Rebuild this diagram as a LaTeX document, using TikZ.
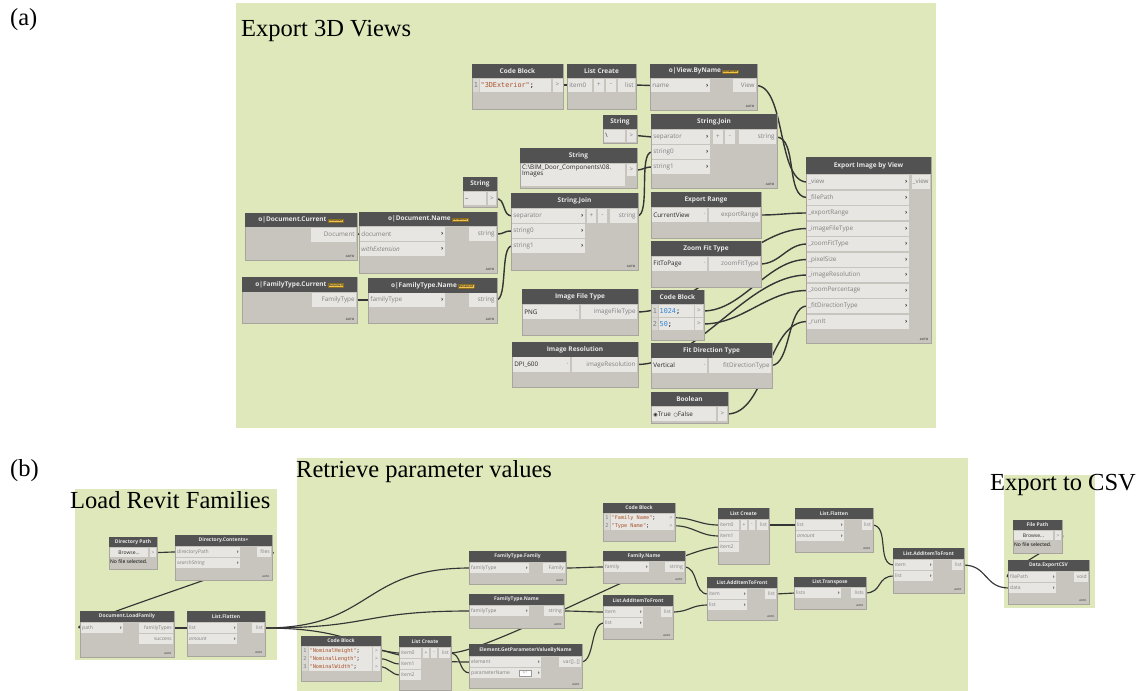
\documentclass[tikz,border=0pt]{standalone}
\usepackage{fontspec}
\setmainfont{Liberation Serif}
\setmonofont{DejaVu Sans Mono}
\newfontfamily\zui{Open Sans}
\newfontfamily\zdj{DejaVu Sans}
\usetikzlibrary{calc}
\definecolor{grp}{HTML}{DEE8BA}
\definecolor{hdr}{HTML}{525252}
\definecolor{hdrt}{HTML}{E8E8E8}
\definecolor{bod}{HTML}{C8C5BE}
\definecolor{bodl}{HTML}{A8A59E}
\definecolor{prt}{HTML}{E8E6E2}
\definecolor{prtd}{HTML}{D9D7D2}
\definecolor{ptx}{HTML}{808080}
\definecolor{chev}{HTML}{3A3A3A}
\definecolor{wirec}{HTML}{353535}
\definecolor{badge}{HTML}{F2C24B}
\definecolor{badgeb}{HTML}{8A6D1E}
\definecolor{cstr}{HTML}{A8522A}
\definecolor{cnum}{HTML}{2F86D8}
\pgfdeclarelayer{grplayer}
\pgfdeclarelayer{wirelayer}
\pgfsetlayers{grplayer,wirelayer,main}
\newcommand\zhf{\zui\bfseries\fontsize{6.5}{7}\selectfont}
\newcommand\zpf{\zui\fontsize{6.3}{7}\selectfont}
\newcommand\zaf{\zui\bfseries\fontsize{3}{3.5}\selectfont}
\newcommand\zkf{\ttfamily\fontsize{6.8}{8}\selectfont}
\newcommand\zbf{\zui\fontsize{3}{3.2}\selectfont}
\newcommand\zRN{\,{\setlength\fboxsep{0.6pt}\setlength\fboxrule{0.3pt}\fcolorbox{badgeb}{badge}{\zbf\color{black!80}Renamed}}}
\tikzset{
 dbody/.style={anchor=north west, fill=bod, draw=bodl, line width=0.4pt, inner sep=0pt, outer sep=0pt},
 dhead/.style={anchor=north west, fill=hdr, inner sep=0pt, outer sep=0pt, text=hdrt, font=\zhf},
 dport/.style={anchor=north west, fill=prt, inner sep=0pt, outer sep=0pt},
 plab/.style={font=\zpf, text=ptx, inner sep=1.2pt},
 pchev/.style={font=\zpf\bfseries, text=chev, inner sep=1.3pt},
 autol/.style={font=\zaf, text=black!65, inner sep=0pt},
 wire/.style={draw=wirec, line width=1.4pt},
 grpbox/.style={anchor=north west, fill=grp, inner sep=0pt, outer sep=0pt},
 ttl/.style={font=\fontsize{24.5}{26}\selectfont, anchor=base west, inner sep=0pt},
 ccode/.style={font=\zkf, inner sep=1pt},
}
% Dynamo node: name, x, y, w, h, header height, title
\newcommand\zDN[7]{%
 \node[dbody, minimum width=#4pt, minimum height=#5pt] (#1) at (#2,#3) {};%
 \node[dhead, minimum width=#4pt, minimum height=#6pt] (#1-h) at (#2,#3) {#7};}
% input port with chevron
\newcommand\zIP[6]{%
 \node[dport, minimum width=#4pt, minimum height=#5pt] (#1) at (#2,#3) {};%
 \node[plab, anchor=west] (#1-t) at (#1.west) {#6};%
 \node[pchev, anchor=east] (#1-c) at (#1.east) {›};}
% input port without chevron
\newcommand\zIN[6]{%
 \node[dport, minimum width=#4pt, minimum height=#5pt] (#1) at (#2,#3) {};%
 \node[plab, anchor=west] (#1-t) at (#1.west) {#6};}
% output port
\newcommand\zOP[6]{%
 \node[dport, minimum width=#4pt, minimum height=#5pt] (#1) at (#2,#3) {};%
 \node[plab, anchor=east] (#1-t) at (#1.east) {#6};}
% plain box, centred text
\newcommand\zBX[6]{%
 \node[dport, minimum width=#4pt, minimum height=#5pt] (#1) at (#2,#3) {};%
 \node[plab] (#1-t) at (#1.center) {#6};}
\newcommand\zCO[5]{\zBX{#1}{#2}{#3}{#4}{#5}{>}}
% dropdown
\newcommand\zDD[6]{%
 \node[dport, minimum width=#4pt, minimum height=#5pt] (#1) at (#2,#3) {};%
 \node[plab, text=black!85, anchor=west] (#1-t) at (#1.west) {#6};%
 \node[plab, anchor=east, text=ptx] (#1-c) at (#1.east) {\zdj\fontsize{4}{4}\selectfont ˅};}
% code row: name, x, y, code width, h, number, code
\newcommand\zCR[7]{%
 \node[dport, fill=prtd, minimum width=6pt, minimum height=#5pt] (#1-n) at (#2,#3) {};%
 \node[ccode, text=ptx] (#1-nt) at (#1-n.center) {#6};%
 \node[dport, minimum width=#4pt, minimum height=#5pt] (#1) at ($(#2,#3)+(6.5,0)$) {};%
 \node[ccode, anchor=west] (#1-t) at (#1.west) {#7};}
\newcommand\zAU[1]{\node[autol, anchor=south east] (#1-au) at ($(#1.south east)+(-2.5,-2)$) {AUTO};}
\newcommand\zW[3][18]{\draw[wire] (#2) .. controls +(#1,0) and +(-#1,0) .. (#3);}
\begin{document}
\begin{tikzpicture}[x=1pt,y=-1pt]
\useasboundingbox (0,0) rectangle (1144,691);
\begin{pgfonlayer}{grplayer}
\fill[white] (0,0) rectangle (1144,691);
\node[grpbox, minimum width=700pt, minimum height=425pt] (gA) at (236,3) {};
\node[grpbox, minimum width=202pt, minimum height=171pt] (gL) at (75,489) {};
\node[grpbox, minimum width=671pt, minimum height=233pt] (gR) at (297,458) {};
\node[grpbox, minimum width=91pt, minimum height=133pt] (gE) at (1004,475) {};
\end{pgfonlayer}
% titles
\node[ttl] (la) at (10,25) {(a)};
\node[ttl] (tA) at (241,36) {Export 3D Views};
\node[ttl] (lb) at (10,476) {(b)};
\node[ttl] (tB1) at (70,508) {Load Revit Families};
\node[ttl] (tB2) at (296,477) {Retrieve parameter values};
\node[ttl] (tB3) at (990,490) {Export to CSV};
% ================= (a) =================
\zDN{cbA}{472}{64}{91}{45}{14}{Code Block}
\zCR{cbA-r}{473}{78.5}{71}{13}{1}{{\color{cstr}"3DExterior"};}
\zCO{cbA-o}{552.5}{78.5}{10}{13}
\zDN{lcA}{567}{64}{69}{45}{14}{List Create}
\zIN{lcA-i0}{568}{78.5}{24}{13}{item0}
\zBX{lcA-p}{594}{78.5}{10}{13}{+}
\zBX{lcA-m}{606}{78.5}{10}{13}{-}
\zOP{lcA-o}{618}{78.5}{17}{13}{list}
\zDN{vbn}{650}{64}{107}{46}{14}{o|View.ByName\zRN}
\zIP{vbn-n}{651}{79}{59}{13}{name}
\zOP{vbn-o}{733}{79}{23}{13}{View}
\zAU{vbn}
\zDN{sbs}{603}{115}{34}{28}{14}{String}
\zIN{sbs-v}{604}{129.5}{21}{12}{\color{black!85}\textbackslash}
\zCO{sbs-o}{627}{129.5}{9}{12}
\zDN{sjA}{651}{114}{126}{74}{15}{String.Join}
\zIP{sjA-sep}{652}{130}{58}{14}{separator}
\zIP{sjA-s0}{652}{145}{58}{14}{string0}
\zIP{sjA-s1}{652}{160}{58}{14}{string1}
\zBX{sjA-p}{713}{130}{10}{14}{+}
\zBX{sjA-m}{725}{130}{10}{14}{-}
\zOP{sjA-o}{739}{130}{37}{14}{string}
\zAU{sjA}
\zDN{spth}{520}{148}{117}{40}{15}{String}
\node[dport, minimum width=104pt, minimum height=22pt] (spth-v) at (521,164) {};
\node[plab, text=black!85, align=left, anchor=north west, inner sep=1pt] (spth-t) at (spth-v.north west) {C:\textbackslash BIM\_Door\_Components\textbackslash 08.\\[-1.5pt]Images};
\zCO{spth-o}{627}{164}{9}{12}
\zDN{sus}{463}{177}{34}{30}{14}{String}
\zIN{sus-v}{464}{192}{22}{13}{\color{black!85}\_}
\zCO{sus-o}{488}{192}{8}{13}
\zDN{dcur}{245}{213}{112}{47}{14}{o|Document.Current\zRN}
\zOP{dcur-o}{311}{227.5}{45}{14}{Document}
\zAU{dcur}
\zDN{dnm}{359}{212}{138}{61}{14}{o|Document.Name\zRN}
\zIP{dnm-d}{360}{227}{85}{14}{document}
\zIP{dnm-w}{360}{242}{85}{14}{\itshape withExtension}
\zOP{dnm-o}{469}{227}{27}{14}{string}
\zAU{dnm}
\zDN{ftc}{242}{277}{115}{46}{15}{o|FamilyType.Current\zRN}
\zOP{ftc-o}{312}{293}{44}{14}{FamilyType}
\zAU{ftc}
\zDN{ftn}{368}{278}{129}{45}{15}{o|FamilyType.Name\zRN}
\zIP{ftn-i}{369}{293}{76}{14}{familyType}
\zOP{ftn-o}{469}{293}{27}{14}{string}
\zAU{ftn}
\zDN{sjB}{511}{193}{127}{77}{15}{String.Join}
\zIP{sjB-sep}{512}{209}{73}{14}{separator}
\zIP{sjB-s0}{512}{224}{73}{14}{string0}
\zIP{sjB-s1}{512}{239}{73}{14}{string1}
\zBX{sjB-p}{587}{209}{9}{14}{+}
\zBX{sjB-m}{598}{209}{9}{14}{-}
\zOP{sjB-o}{610}{209}{27}{14}{string}
\zAU{sjB}
\zDN{er}{651}{192}{110}{46}{15}{Export Range}
\zDD{er-d}{652}{208}{55}{14}{CurrentView}
\zOP{er-o}{709}{208}{51}{14}{exportRange}
\zDN{zft}{651}{241}{110}{46}{15}{Zoom Fit Type}
\zDD{zft-d}{652}{257}{55}{14}{FitToPage}
\zOP{zft-o}{709}{257}{51}{14}{zoomFitType}
\zDN{ift}{522}{289}{116}{46}{15}{Image File Type}
\zDD{ift-d}{523}{305}{56}{14}{PNG}
\zOP{ift-o}{581}{305}{56}{14}{imageFileType}
\zDN{cbB}{651}{290}{53}{50}{14}{Code Block}
\zCR{cbB-r1}{652}{305}{35}{12}{1}{{\color{cnum}1024};}
\zCR{cbB-r2}{652}{318}{35}{12}{2}{{\color{cnum}50};}
\zCO{cbB-o1}{695}{305}{8}{12}
\zCO{cbB-o2}{695}{318}{8}{12}
\zDN{ir}{512}{342}{126}{45}{15}{Image Resolution}
\zDD{ir-d}{513}{357}{57}{15}{DPI\_600}
\zOP{ir-o}{572}{357}{65}{15}{imageResolution}
\zDN{fdt}{651}{343}{121}{45}{15}{Fit Direction Type}
\zDD{fdt-d}{652}{358}{55}{15}{Vertical}
\zOP{fdt-o}{709}{358}{62}{15}{fitDirectionType}
\zDN{bool}{651}{392}{77}{31}{14}{Boolean}
\node[dport, minimum width=64pt, minimum height=14pt] (bool-v) at (652,407) {};
\node[plab, text=black!85, anchor=west] (bool-t) at (bool-v.west) {{\zdj\fontsize{5}{5}\selectfont ◉}True\, {\zdj\fontsize{5}{5}\selectfont ○}False};
\zCO{bool-o}{718}{407}{9}{14}
\zDN{eibv}{806}{157}{125}{186}{17}{Export Image by View}
\zIP{e1}{807}{175}{102}{14}{\_view}
\zIP{e2}{807}{190.5}{102}{14}{\_filePath}
\zIP{e3}{807}{206}{102}{14}{\_exportRange}
\zIP{e4}{807}{221.5}{102}{14}{\_imageFileType}
\zIP{e5}{807}{237}{102}{14}{\_zoomFitType}
\zIP{e6}{807}{252.5}{102}{14}{\_pixelSize}
\zIP{e7}{807}{268}{102}{14}{\_imageResolution}
\zIP{e8}{807}{283.5}{102}{14}{\_zoomPercentage}
\zIP{e9}{807}{299}{102}{14}{\_fitDirectionType}
\zIP{e10}{807}{314.5}{102}{14}{\_runIt}
\zOP{eibv-o}{912}{175}{18}{14}{\_view}
\zAU{eibv}
\begin{pgfonlayer}{wirelayer}
\zW[8]{cbA-o.east}{lcA-i0.west}
\zW[8]{lcA-o.east}{vbn-n.west}
\zW[30]{vbn-o.east}{e1.west}
\zW[8]{sbs-o.east}{sjA-sep.west}
\zW[8]{spth-o.east}{sjA-s1.west}
\zW[14]{sjB-o.east}{sjA-s0.west}
\zW[22]{sjA-o.east}{e2.west}
\zW[10]{sus-o.east}{sjB-sep.west}
\zW[4]{dcur-o.east}{dnm-d.west}
\zW[10]{dnm-o.east}{sjB-s0.west}
\zW[6]{ftc-o.east}{ftn-i.west}
\zW[12]{ftn-o.east}{sjB-s1.west}
\zW[20]{er-o.east}{e3.west}
\zW[60]{ift-o.east}{e4.west}
\zW[20]{zft-o.east}{e5.west}
\zW[40]{cbB-o1.east}{e6.west}
\zW[60]{ir-o.east}{e7.west}
\zW[40]{cbB-o2.east}{e8.west}
\zW[20]{fdt-o.east}{e9.west}
\zW[40]{bool-o.east}{e10.west}
\end{pgfonlayer}
% ================= (b) =================
\renewcommand\zhf{\zui\bfseries\fontsize{5}{6}\selectfont}
\renewcommand\zpf{\zui\fontsize{5}{6}\selectfont}
\renewcommand\zaf{\zui\bfseries\fontsize{2.5}{3}\selectfont}
\renewcommand\zkf{\ttfamily\fontsize{5.2}{6}\selectfont}
\tikzset{wire/.style={draw=wirec, line width=1.15pt}, plab/.style={font=\zpf, text=ptx, inner sep=1pt}, pchev/.style={font=\zpf\bfseries, text=chev, inner sep=1pt}}
\zDN{dp}{109}{537}{48}{32}{10}{Directory Path}
\zBX{dp-b}{110}{548}{38}{9}{\color{black!85}Browse...}
\zCO{dp-o}{150}{548}{6}{9}
\node[plab, text=black, anchor=north west, inner sep=0.5pt] (dp-n) at (109.5,558.5) {No file selected.};
\zDN{dc}{175}{535}{97}{45}{11}{Directory.Contents+}
\zIP{dc-dp}{176}{547}{64}{10}{directoryPath}
\zIP{dc-ss}{176}{558}{64}{10}{\itshape searchString}
\zOP{dc-o}{257}{547}{14}{10}{files}
\zAU{dc}
\zDN{lf}{80}{611}{94}{46}{11}{Document.LoadFamily}
\zIP{lf-p}{81}{623}{42}{10}{path}
\zOP{lf-ft}{139}{623}{34}{10}{familyTypes}
\zOP{lf-s}{139}{634}{34}{10}{success}
\zAU{lf}
\zDN{fl1}{187}{611}{78}{45}{11}{List.Flatten}
\zIP{fl1-l}{188}{623}{49}{10}{list}
\zIP{fl1-a}{188}{634}{49}{10}{\itshape amount}
\zOP{fl1-o}{252}{623}{12}{10}{list}
\zAU{fl1}
\zDN{ftf}{469}{551}{97}{33}{11}{FamilyType.Family}
\zIP{ftf-i}{470}{563}{59}{10}{familyType}
\zOP{ftf-o}{543}{563}{22}{10}{Family}
\zAU{ftf}
\zDN{ftnB}{469}{594}{95}{34}{11}{FamilyType.Name}
\zIP{ftnB-i}{470}{606}{59}{10}{familyType}
\zOP{ftnB-o}{544}{606}{19}{10}{string}
\zAU{ftnB}
\zDN{cbN}{301}{636}{80}{45}{10}{Code Block}
\zCR{cbN-r1}{302}{647}{63}{8}{1}{{\color{cstr}"NominalHeight"};}
\zCR{cbN-r2}{302}{655}{63}{8}{2}{{\color{cstr}"NominalLength"};}
\zCR{cbN-r3}{302}{663}{63}{8}{3}{{\color{cstr}"NominalWidth"};}
\zCO{cbN-o1}{373}{647}{7}{7.5}
\zCO{cbN-o2}{373}{655}{7}{7.5}
\zCO{cbN-o3}{373}{663}{7}{7.5}
\zDN{lcB}{399}{636}{52}{54}{11}{List Create}
\zIN{lcB-0}{400}{648}{21}{10}{item0}
\zBX{lcB-p}{423}{648}{6}{10}{+}
\zBX{lcB-m}{431}{648}{6}{10}{-}
\zOP{lcB-o}{439}{648}{11}{10}{list}
\zIN{lcB-1}{400}{659}{21}{10}{item1}
\zIN{lcB-2}{400}{670}{21}{10}{item2}
\zDN{gpv}{469}{644}{113}{44}{12}{Element.GetParameterValueByName}
\zIP{gpv-e}{470}{657}{71}{10}{element}
\zIP{gpv-p}{470}{668}{71}{10}{parameterName}
\node[draw=black!40, fill=white, minimum width=12pt, minimum height=6pt, inner sep=0pt, font=\zui\fontsize{3}{3}\selectfont, text=ptx] (gpv-sp) at (525,673) {0,1};
\zOP{gpv-o}{559}{657}{22}{10}{var[]..[]}
\zAU{gpv}
\zDN{cbF}{603}{503}{72}{38}{10}{Code Block}
\zCR{cbF-r1}{604}{514}{57}{8}{1}{{\color{cstr}"Family Name"};}
\zCR{cbF-r2}{604}{522}{57}{8}{2}{{\color{cstr}"Type Name"};}
\zCO{cbF-o1}{668}{514}{6}{7.5}
\zCO{cbF-o2}{668}{522}{6}{7.5}
\zDN{lcC}{718}{508}{51}{56}{11}{List Create}
\zIN{lcC-0}{719}{520}{20}{10}{item0}
\zBX{lcC-p}{741}{520}{6}{10}{+}
\zBX{lcC-m}{749}{520}{6}{10}{-}
\zOP{lcC-o}{757}{520}{11}{10}{list}
\zIN{lcC-1}{719}{531}{20}{10}{item1}
\zIN{lcC-2}{719}{542}{20}{10}{item2}
\zDN{fl2}{795}{508}{78}{44}{11}{List.Flatten}
\zIP{fl2-l}{796}{520}{48}{10}{list}
\zIP{fl2-a}{796}{531}{48}{10}{\itshape amount}
\zOP{fl2-o}{862}{520}{10}{10}{list}
\zAU{fl2}
\zDN{fnm}{603}{551}{82}{32}{10}{Family.Name}
\zIP{fnm-i}{604}{562}{45}{10}{family}
\zOP{fnm-o}{665}{562}{19}{10}{string}
\zAU{fnm}
\zDN{aifM}{707}{577}{70}{43}{11}{List.AddItemToFront}
\zIP{aifM-i}{708}{589}{39}{10}{item}
\zIP{aifM-l}{708}{600}{39}{10}{list}
\zOP{aifM-o}{765}{589}{11}{10}{list}
\zAU{aifM}
\zDN{tr}{794}{577}{72}{32}{10}{List.Transpose}
\zIP{tr-i}{795}{588}{46}{10}{lists}
\zOP{tr-o}{851}{588}{14}{10}{lists}
\zAU{tr}
\zDN{aifL}{603}{595}{70}{44}{11}{List.AddItemToFront}
\zIP{aifL-i}{604}{607}{39}{10}{item}
\zIP{aifL-l}{604}{618}{39}{10}{list}
\zOP{aifL-o}{661}{607}{11}{10}{list}
\zAU{aifL}
\zDN{aifF}{893}{548}{71}{45}{11}{List.AddItemToFront}
\zIP{aifF-i}{894}{560}{39}{10}{item}
\zIP{aifF-l}{894}{571}{39}{10}{list}
\zOP{aifF-o}{952}{560}{11}{10}{list}
\zAU{aifF}
\zDN{fp}{1013}{520}{49}{33}{10}{File Path}
\zBX{fp-b}{1014}{531}{39}{9}{\color{black!85}Browse...}
\zCO{fp-o}{1055}{531}{6}{9}
\node[plab, text=black, anchor=north west, inner sep=0.5pt] (fp-n) at (1013.5,541.5) {No file selected.};
\zDN{csv}{1008}{560}{81}{44}{11}{Data.ExportCSV}
\zIP{csv-fp}{1009}{572}{47}{10}{filePath}
\zIP{csv-d}{1009}{583}{47}{10}{data}
\zOP{csv-o}{1074}{572}{14}{10}{void}
\zAU{csv}
\begin{pgfonlayer}{wirelayer}
\zW[8]{dp-o.east}{dc-dp.west}
\zW[28]{dc-o.east}{lf-p.west}
\zW[6]{lf-ft.east}{fl1-l.west}
\zW[110]{fl1-o.east}{ftf-i.west}
\zW[110]{fl1-o.east}{ftnB-i.west}
\zW[110]{fl1-o.east}{gpv-e.west}
\zW[9]{cbN-o1.east}{lcB-0.west}
\zW[9]{cbN-o2.east}{lcB-1.west}
\zW[9]{cbN-o3.east}{lcB-2.west}
\zW[12]{lcB-o.east}{gpv-p.west}
\zW[40]{lcB-o.east}{lcC-2.west}
\zW[15]{ftf-o.east}{fnm-i.west}
\zW[15]{ftnB-o.east}{aifL-i.west}
\zW[14]{gpv-o.east}{aifL-l.west}
\zW[15]{fnm-o.east}{aifM-i.west}
\zW[18]{aifL-o.east}{aifM-l.west}
\zW[20]{cbF-o1.east}{lcC-0.west}
\zW[20]{cbF-o2.east}{lcC-1.west}
\zW[10]{lcC-o.east}{fl2-l.west}
\zW[10]{aifM-o.east}{tr-i.west}
\zW[18]{fl2-o.east}{aifF-i.west}
\zW[18]{tr-o.east}{aifF-l.west}
\zW[25]{aifF-o.east}{csv-d.west}
\zW[15]{fp-o.east}{csv-fp.west}
\end{pgfonlayer}
\end{tikzpicture}
\end{document}
